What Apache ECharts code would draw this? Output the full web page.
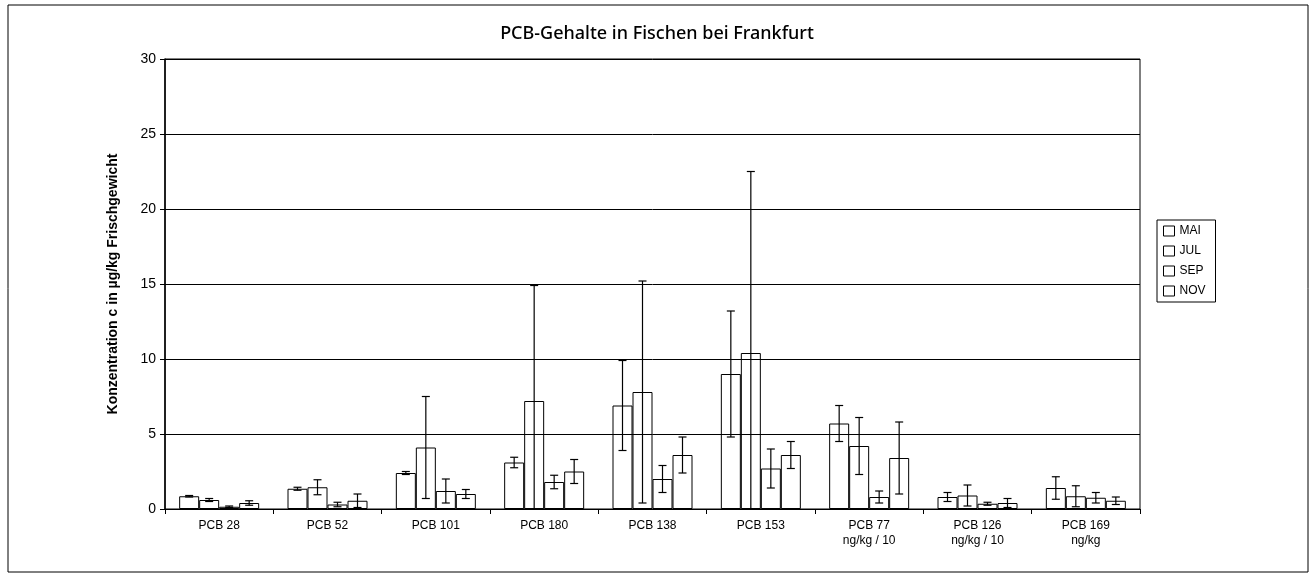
<!DOCTYPE html>
<html>
<head>
<meta charset="utf-8">
<script src="https://cdn.jsdelivr.net/npm/echarts@6/dist/echarts.min.js"></script>
<style>
  html, body { margin: 0; padding: 0; background: #fff; }
  #chart { width: 1316px; height: 578px; }
</style>
</head>
<body>
<div id="chart"></div>
<script>
// categories and tick labels
const categories = ['PCB 28', 'PCB 52', 'PCB 101', 'PCB 180', 'PCB 138', 'PCB 153',
  'PCB 77\nng/kg / 10', 'PCB 126\nng/kg / 10', 'PCB 169\nng/kg'];
const months = ['MAI', 'JUL', 'SEP', 'NOV'];
const yTicks = [0, 5, 10, 15, 20, 25, 30];

// mean values per month
const mai = [0.85, 1.35, 2.4, 3.1, 6.9, 9.0, 5.7, 0.8, 1.4];
const jul = [0.6, 1.45, 4.1, 7.2, 7.8, 10.4, 4.2, 0.9, 0.85];
const sep = [0.15, 0.3, 1.2, 1.8, 2.0, 2.7, 0.8, 0.35, 0.75];
const nov = [0.4, 0.55, 1.0, 2.5, 3.6, 3.6, 3.4, 0.4, 0.55];

// standard deviations (error bars)
const maiErr = [0.05, 0.1, 0.1, 0.35, 3.0, 4.2, 1.2, 0.3, 0.75];
const julErr = [0.1, 0.5, 3.4, 7.7, 7.4, 12.1, 1.9, 0.7, 0.7];
const sepErr = [0.05, 0.15, 0.8, 0.45, 0.9, 1.3, 0.4, 0.1, 0.35];
const novErr = [0.15, 0.45, 0.3, 0.8, 1.2, 0.9, 2.4, 0.3, 0.25];

const values = [mai, jul, sep, nov];
const errors = [maiErr, julErr, sepErr, novErr];

const BAR_W = 20;
const chart = echarts.init(document.getElementById('chart'));

const barSeries = months.map((m, k) => ({
  name: m,
  type: 'bar',
  barWidth: BAR_W,
  barGap: '0%',
  data: values[k],
  itemStyle: { color: 'rgba(255,255,255,0)', borderColor: '#000', borderWidth: 1 },
  z: 1,
  silent: true
}));

const errSeries = months.map((m, k) => ({
  name: m + ' err',
  type: 'custom',
  z: 5,
  silent: true,
  data: values[k].map((v, i) => [i, Math.max(0, v - errors[k][i]), v + errors[k][i]]),
  encode: { x: 0, y: [1, 2] },
  renderItem: function (params, api) {
    const i = api.value(0);
    const top = api.coord([i, api.value(2)]);
    const bot = api.coord([i, api.value(1)]);
    const x = top[0] + (k - 1.5) * BAR_W;
    const cap = 4;
    const style = { stroke: '#000', lineWidth: 1.2 };
    return {
      type: 'group',
      children: [
        { type: 'line', shape: { x1: x, y1: top[1], x2: x, y2: bot[1] }, style },
        { type: 'line', shape: { x1: x - cap, y1: top[1], x2: x + cap, y2: top[1] }, style },
        { type: 'line', shape: { x1: x - cap, y1: bot[1], x2: x + cap, y2: bot[1] }, style }
      ]
    };
  }
}));

const option = {
  backgroundColor: '#fff',
  animation: false,
  title: {
    text: 'PCB-Gehalte in Fischen bei Frankfurt',
    left: 652,
    textAlign: 'center',
    top: 20,
    textStyle: { fontFamily: 'Noto Sans', fontSize: 18, fontWeight: 500, color: '#000' }
  },
  legend: {
    data: months,
    orient: 'vertical',
    left: 1157,
    top: 220,
    padding: [5, 10, 5, 6],
    itemGap: 8,
    itemWidth: 11,
    itemHeight: 10,
    icon: 'rect',
    borderColor: '#000',
    borderWidth: 1,
    itemStyle: { color: '#fff', borderColor: '#000', borderWidth: 1 },
    textStyle: { fontFamily: 'Liberation Sans Narrow, Liberation Sans, Arial', fontSize: 12, color: '#000' },
    selectedMode: false
  },
  grid: {
    left: 165, right: 176, top: 59, bottom: 69,
    show: true, borderColor: '#000', borderWidth: 1
  },
  xAxis: {
    type: 'category',
    data: categories,
    axisLine: { lineStyle: { color: '#000', width: 1 } },
    axisTick: { show: true, length: 5, lineStyle: { color: '#000' } },
    axisLabel: {
      color: '#000', fontSize: 12, lineHeight: 15, margin: 9,
      fontFamily: 'Liberation Sans Narrow, Liberation Sans, Arial'
    }
  },
  yAxis: {
    type: 'value',
    min: yTicks[0],
    max: yTicks[yTicks.length - 1],
    interval: yTicks[1] - yTicks[0],
    name: 'Konzentration c in µg/kg Frischgewicht',
    nameLocation: 'middle',
    nameGap: 45,
    nameTextStyle: { fontFamily: 'Liberation Sans, Arial', fontSize: 14, fontWeight: 'bold', color: '#000' },
    axisLine: { show: true, lineStyle: { color: '#000', width: 1.5 } },
    axisTick: { show: true, length: 5, lineStyle: { color: '#000' } },
    axisLabel: { color: '#000', fontSize: 14, margin: 9, fontFamily: 'Liberation Sans, Arial' },
    splitLine: { show: true, lineStyle: { color: '#000', width: 1 } }
  },
  graphic: [{
    type: 'rect',
    shape: { x: 8, y: 5, width: 1300, height: 567 },
    style: { fill: 'none', stroke: '#000', lineWidth: 1 },
    silent: true,
    z: -10
  }],
  series: barSeries.concat(errSeries)
};

chart.setOption(option);
</script>
</body>
</html>
